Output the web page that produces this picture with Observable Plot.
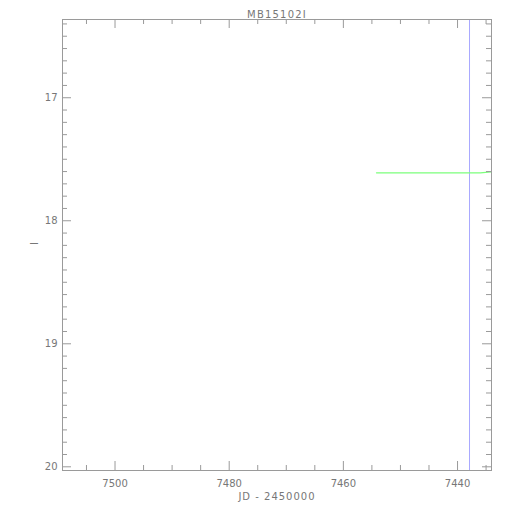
<!DOCTYPE html>
<html><head><meta charset="utf-8">
<script src="https://cdn.jsdelivr.net/npm/d3@7"></script>
<script src="https://cdn.jsdelivr.net/npm/@observablehq/plot@0.6"></script>
<style>body{margin:0;background:#fff}</style>
</head><body><div id="chart"></div>
<script>
const title = "MB15102I";
const xLabel = "JD - 2450000";
const yLabel = "I";
const xDomain = [7509.2, 7434.05];
const yDomain = [16.364, 20.03];
const xMajorTicks = [7500, 7480, 7460, 7440];
const xMinorTicks = [7505, 7495, 7490, 7485, 7475, 7470, 7465, 7455, 7450, 7445, 7435];
const yMajorTicks = [17, 18, 19, 20];
const yMinorTicks = [16.4, 16.5, 16.6, 16.7, 16.8, 16.9,
  17.1, 17.2, 17.3, 17.4, 17.5, 17.6, 17.7, 17.8, 17.9,
  18.1, 18.2, 18.3, 18.4, 18.5, 18.6, 18.7, 18.8, 18.9,
  19.1, 19.2, 19.3, 19.4, 19.5, 19.6, 19.7, 19.8, 19.9];
const lcJD = [7454.2, 7451, 7448, 7445, 7442, 7439, 7436, 7433.5];
const lcMag = [17.61, 17.61, 17.61, 17.61, 17.61, 17.61, 17.61, 17.60];
const markerJD = [7437.9];

const W = 510, H = 510;
const mL = 62, mR = 19, mT = 19, mB = 40;
const innerW = W - mL - mR, innerH = H - mT - mB;
const axisColor = "#9a9a9a";
const textColor = "#777";
const lc = lcJD.map((jd, i) => ({jd, mag: lcMag[i]}));

const chart = Plot.plot({
  width: W, height: H,
  marginLeft: mL, marginRight: mR, marginTop: mT, marginBottom: mB,
  style: {fontFamily: "DejaVu Sans", fontSize: "10px", color: textColor, background: "#fff"},
  x: {domain: xDomain},
  y: {domain: yDomain, reverse: true},
  marks: [
    Plot.ruleX(markerJD, {x: d => d, stroke: "#a8a8ff", strokeWidth: 1}),
    Plot.line(lc, {x: "jd", y: "mag", stroke: "#7cff7c", strokeWidth: 1.2, clip: true}),
    Plot.frame({stroke: axisColor}),
    // inward ticks bottom
    Plot.tickX(xMajorTicks, {x: d => d, stroke: axisColor, insetTop: innerH - 9}),
    Plot.tickX(xMinorTicks, {x: d => d, stroke: axisColor, insetTop: innerH - 5}),
    // inward ticks top
    Plot.tickX(xMajorTicks, {x: d => d, stroke: axisColor, insetBottom: innerH - 9}),
    Plot.tickX(xMinorTicks, {x: d => d, stroke: axisColor, insetBottom: innerH - 5}),
    // inward ticks left
    Plot.tickY(yMajorTicks, {y: d => d, stroke: axisColor, insetRight: innerW - 9}),
    Plot.tickY(yMinorTicks, {y: d => d, stroke: axisColor, insetRight: innerW - 5}),
    // inward ticks right
    Plot.tickY(yMajorTicks, {y: d => d, stroke: axisColor, insetLeft: innerW - 9}),
    Plot.tickY(yMinorTicks, {y: d => d, stroke: axisColor, insetLeft: innerW - 5}),
    Plot.axisX(xMajorTicks, {anchor: "bottom", tickSize: 0, tickPadding: 9, label: null, fill: textColor, tickFormat: d => String(d)}),
    Plot.axisY(yMajorTicks, {anchor: "left", tickSize: 0, tickPadding: 5, label: null, fill: textColor, tickFormat: d => String(d)}),
    Plot.text([title], {frameAnchor: "top", dy: -9, fill: textColor, fontSize: 10, letterSpacing: 1.2}),
    Plot.text([xLabel], {frameAnchor: "bottom", dy: 29, fill: textColor, fontSize: 10}),
    Plot.text([yLabel], {frameAnchor: "left", dx: -28, rotate: -90, fill: textColor, fontSize: 10})
  ]
});
chart.querySelectorAll("text").forEach(t => {
  if (t.textContent === xLabel) t.setAttribute("letter-spacing", "1");
  if (t.textContent === title) t.setAttribute("letter-spacing", "1.2");
});
document.getElementById("chart").appendChild(chart);
</script>
</body></html>
